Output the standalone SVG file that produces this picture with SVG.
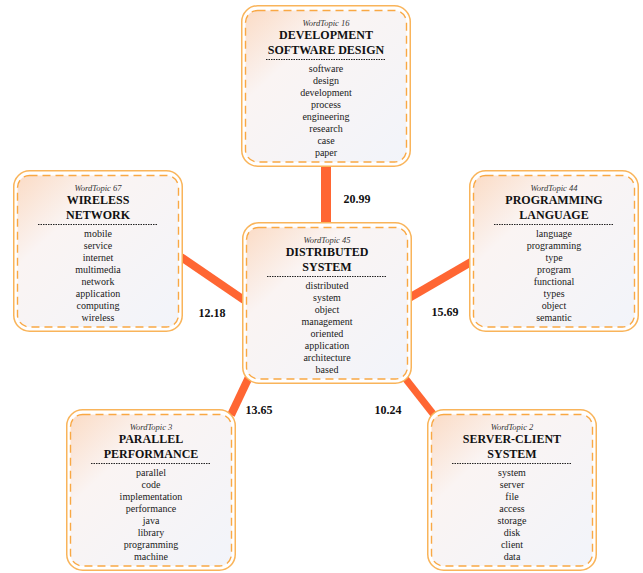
<svg xmlns="http://www.w3.org/2000/svg" width="643" height="573" viewBox="0 0 643 573">
<defs>
<linearGradient id="g" x1="0" y1="0" x2="1" y2="1">
<stop offset="0" stop-color="#fbdcc6"/>
<stop offset="0.3" stop-color="#faf4f3"/>
<stop offset="1" stop-color="#f2f4fa"/>
</linearGradient>
<style>
.outer{fill:#ffffff;stroke:#f9b45a;stroke-width:1.5}
.inner{fill:url(#g);stroke:#f9a844;stroke-width:1.4;stroke-dasharray:8 5}
.wt{font-style:italic;font-size:8.5px;fill:#333;text-anchor:middle}
.tt{font-weight:bold;font-size:12px;fill:#111;text-anchor:middle}
.w{font-size:10px;fill:#1a1a1a;text-anchor:middle}
.sep{stroke:#222;stroke-width:1;stroke-dasharray:1.5 1}
.c{stroke:#ff6633;fill:none}
.lbl{font-weight:bold;font-size:12px;fill:#111;text-anchor:middle}
</style>
</defs>
<rect width="643" height="573" fill="#ffffff"/>
<g font-family="'Liberation Serif', 'Times New Roman', 'DejaVu Serif', serif">
<g id="connectors">
<line class="c" x1="326" y1="164" x2="326" y2="226" stroke-width="10"/>
<line class="c" x1="181" y1="257" x2="244" y2="300" stroke-width="8"/>
<line class="c" x1="409" y1="298" x2="471" y2="262" stroke-width="8"/>
<line class="c" x1="249" y1="377" x2="231" y2="415" stroke-width="8"/>
<line class="c" x1="405" y1="378" x2="434" y2="415" stroke-width="7"/>
<text class="lbl" x="357" y="203">20.99</text>
<text class="lbl" x="212" y="317">12.18</text>
<text class="lbl" x="445" y="316">15.69</text>
<text class="lbl" x="259" y="414">13.65</text>
<text class="lbl" x="388" y="414">10.24</text>
</g>
<g id="topic16" transform="translate(241,5)">
<rect class="outer" x="0.75" y="0.75" width="168.5" height="160.5" rx="16"/>
<rect class="inner" x="4.5" y="5.5" width="161" height="151.5" rx="12"/>
<text class="wt" x="85" y="20.5">WordTopic 16</text>
<text class="tt" x="85" y="33.5">DEVELOPMENT</text>
<text class="tt" x="85" y="48.5">SOFTWARE DESIGN</text>
<line class="sep" x1="25" y1="54.5" x2="145" y2="54.5"/>
<text class="w" x="85" y="66.5">software</text>
<text class="w" x="85" y="78.5">design</text>
<text class="w" x="85" y="90.5">development</text>
<text class="w" x="85" y="102.5">process</text>
<text class="w" x="85" y="114.5">engineering</text>
<text class="w" x="85" y="126.5">research</text>
<text class="w" x="85" y="138.5">case</text>
<text class="w" x="85" y="150.5">paper</text>
</g>
<g id="topic45" transform="translate(242,222)">
<rect class="outer" x="0.75" y="0.75" width="168.5" height="160.5" rx="16"/>
<rect class="inner" x="4.5" y="5.5" width="161" height="151.5" rx="12"/>
<text class="wt" x="85" y="20.5">WordTopic 45</text>
<text class="tt" x="85" y="33.5">DISTRIBUTED</text>
<text class="tt" x="85" y="48.5">SYSTEM</text>
<line class="sep" x1="25" y1="54.5" x2="145" y2="54.5"/>
<text class="w" x="85" y="66.5">distributed</text>
<text class="w" x="85" y="78.5">system</text>
<text class="w" x="85" y="90.5">object</text>
<text class="w" x="85" y="102.5">management</text>
<text class="w" x="85" y="114.5">oriented</text>
<text class="w" x="85" y="126.5">application</text>
<text class="w" x="85" y="138.5">architecture</text>
<text class="w" x="85" y="150.5">based</text>
</g>
<g id="topic67" transform="translate(13,170)">
<rect class="outer" x="0.75" y="0.75" width="168.5" height="160.5" rx="16"/>
<rect class="inner" x="4.5" y="5.5" width="161" height="151.5" rx="12"/>
<text class="wt" x="85" y="20.5">WordTopic 67</text>
<text class="tt" x="85" y="33.5">WIRELESS</text>
<text class="tt" x="85" y="48.5">NETWORK</text>
<line class="sep" x1="25" y1="54.5" x2="145" y2="54.5"/>
<text class="w" x="85" y="66.5">mobile</text>
<text class="w" x="85" y="78.5">service</text>
<text class="w" x="85" y="90.5">internet</text>
<text class="w" x="85" y="102.5">multimedia</text>
<text class="w" x="85" y="114.5">network</text>
<text class="w" x="85" y="126.5">application</text>
<text class="w" x="85" y="138.5">computing</text>
<text class="w" x="85" y="150.5">wireless</text>
</g>
<g id="topic44" transform="translate(469,170)">
<rect class="outer" x="0.75" y="0.75" width="168.5" height="160.5" rx="16"/>
<rect class="inner" x="4.5" y="5.5" width="161" height="151.5" rx="12"/>
<text class="wt" x="85" y="20.5">WordTopic 44</text>
<text class="tt" x="85" y="33.5">PROGRAMMING</text>
<text class="tt" x="85" y="48.5">LANGUAGE</text>
<line class="sep" x1="25" y1="54.5" x2="145" y2="54.5"/>
<text class="w" x="85" y="66.5">language</text>
<text class="w" x="85" y="78.5">programming</text>
<text class="w" x="85" y="90.5">type</text>
<text class="w" x="85" y="102.5">program</text>
<text class="w" x="85" y="114.5">functional</text>
<text class="w" x="85" y="126.5">types</text>
<text class="w" x="85" y="138.5">object</text>
<text class="w" x="85" y="150.5">semantic</text>
</g>
<g id="topic3" transform="translate(66,409)">
<rect class="outer" x="0.75" y="0.75" width="168.5" height="160.5" rx="16"/>
<rect class="inner" x="4.5" y="5.5" width="161" height="151.5" rx="12"/>
<text class="wt" x="85" y="20.5">WordTopic 3</text>
<text class="tt" x="85" y="33.5">PARALLEL</text>
<text class="tt" x="85" y="48.5">PERFORMANCE</text>
<line class="sep" x1="25" y1="54.5" x2="145" y2="54.5"/>
<text class="w" x="85" y="66.5">parallel</text>
<text class="w" x="85" y="78.5">code</text>
<text class="w" x="85" y="90.5">implementation</text>
<text class="w" x="85" y="102.5">performance</text>
<text class="w" x="85" y="114.5">java</text>
<text class="w" x="85" y="126.5">library</text>
<text class="w" x="85" y="138.5">programming</text>
<text class="w" x="85" y="150.5">machine</text>
</g>
<g id="topic2" transform="translate(427,409)">
<rect class="outer" x="0.75" y="0.75" width="168.5" height="160.5" rx="16"/>
<rect class="inner" x="4.5" y="5.5" width="161" height="151.5" rx="12"/>
<text class="wt" x="85" y="20.5">WordTopic 2</text>
<text class="tt" x="85" y="33.5">SERVER-CLIENT</text>
<text class="tt" x="85" y="48.5">SYSTEM</text>
<line class="sep" x1="25" y1="54.5" x2="145" y2="54.5"/>
<text class="w" x="85" y="66.5">system</text>
<text class="w" x="85" y="78.5">server</text>
<text class="w" x="85" y="90.5">file</text>
<text class="w" x="85" y="102.5">access</text>
<text class="w" x="85" y="114.5">storage</text>
<text class="w" x="85" y="126.5">disk</text>
<text class="w" x="85" y="138.5">client</text>
<text class="w" x="85" y="150.5">data</text>
</g>
</g>
</svg>
